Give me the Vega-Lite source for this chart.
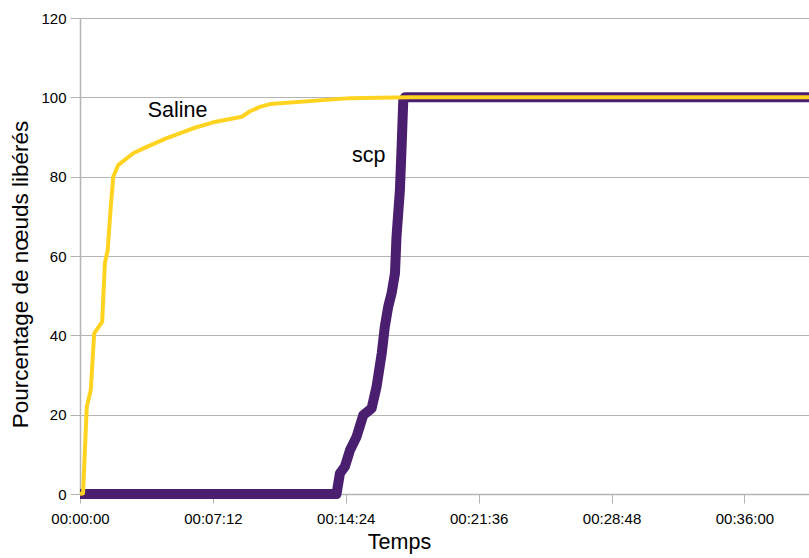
{
  "$schema": "https://vega.github.io/schema/vega-lite/v6.json",
  "width": 729,
  "height": 476,
  "autosize": {"type": "none"},
  "padding": {"left": 80, "top": 18, "right": 0, "bottom": 64},
  "background": "white",
  "config": {
    "view": {"stroke": null},
    "font": "Liberation Sans",
    "axis": {"labelFont": "Liberation Sans", "titleFont": "Liberation Sans", "labelColor": "#000000", "titleColor": "#000000", "titleFontWeight": "normal"}
  },
  "datasets": {
    "saline": [
      {"t": 0, "v": 0}, {"t": 10, "v": 0.2}, {"t": 22, "v": 22.0}, {"t": 35, "v": 26.2},
      {"t": 46, "v": 40.5}, {"t": 72, "v": 43.4}, {"t": 81, "v": 58.2}, {"t": 90, "v": 61.5},
      {"t": 100, "v": 72.4}, {"t": 106, "v": 77.9}, {"t": 108, "v": 80.0}, {"t": 124, "v": 82.9},
      {"t": 173, "v": 85.9}, {"t": 217, "v": 87.5}, {"t": 282, "v": 89.7}, {"t": 368, "v": 92.2},
      {"t": 433, "v": 93.7}, {"t": 526, "v": 95.1}, {"t": 553, "v": 96.5}, {"t": 585, "v": 97.6},
      {"t": 618, "v": 98.3}, {"t": 878, "v": 99.8}, {"t": 1073, "v": 100}, {"t": 2370, "v": 100}
    ],
    "scp": [
      {"t": 0, "v": 0}, {"t": 834, "v": 0}, {"t": 845, "v": 5.2}, {"t": 861, "v": 6.9},
      {"t": 878, "v": 11.1}, {"t": 899, "v": 14.4}, {"t": 921, "v": 19.9}, {"t": 948, "v": 21.6},
      {"t": 964, "v": 27.0}, {"t": 981, "v": 35.5}, {"t": 991, "v": 42.2}, {"t": 1002, "v": 47.2},
      {"t": 1013, "v": 50.6}, {"t": 1024, "v": 55.6}, {"t": 1029, "v": 64.9}, {"t": 1040, "v": 76.6},
      {"t": 1046, "v": 88.4}, {"t": 1051, "v": 99.3}, {"t": 1056, "v": 100}, {"t": 2370, "v": 100}
    ],
    "labels": [
      {"t": 317, "v": 96.5, "name": "Saline"},
      {"t": 939, "v": 85.3, "name": "scp"}
    ]
  },
  "layer": [
    {
      "data": {"name": "scp"},
      "mark": {"type": "line", "color": "#4b1f6f", "strokeWidth": 10, "strokeJoin": "round", "strokeCap": "butt"},
      "encoding": {
        "x": {
          "field": "t", "type": "quantitative",
          "scale": {"domain": [0, 2370], "nice": false, "zero": false},
          "axis": {
            "values": [0, 432, 864, 1296, 1728, 2160],
            "labelExpr": "utcFormat(datum.value * 1000, '%H:%M:%S')",
            "labelFlush": false, "labelOverlap": false,
            "title": "Temps", "titleFontSize": 21.5, "titlePadding": 5,
            "titleX": 319, "titleAlign": "center", "titleAnchor": null,
            "labelFontSize": 15, "labelPadding": 8,
            "grid": false, "domainColor": "#b3b3b3", "domainWidth": 1.5,
            "tickColor": "#b3b3b3", "tickSize": 9, "tickWidth": 1
          }
        },
        "y": {
          "field": "v", "type": "quantitative",
          "scale": {"domain": [0, 120], "nice": false},
          "axis": {
            "values": [0, 20, 40, 60, 80, 100, 120],
            "title": "Pourcentage de nœuds libérés", "titleFontSize": 22.5, "titlePadding": 8,
            "titleY": 256,
            "labelFontSize": 15, "labelPadding": 4,
            "grid": true, "gridColor": "#b3b3b3", "gridWidth": 1,
            "domainColor": "#b3b3b3", "domainWidth": 1.5,
            "tickColor": "#b3b3b3", "tickSize": 10
          }
        }
      }
    },
    {
      "data": {"name": "saline"},
      "mark": {"type": "line", "color": "#ffd320", "strokeWidth": 4, "strokeJoin": "round"},
      "encoding": {
        "x": {"field": "t", "type": "quantitative"},
        "y": {"field": "v", "type": "quantitative"}
      }
    },
    {
      "data": {"name": "labels"},
      "mark": {"type": "text", "fontSize": 21.5, "font": "Liberation Sans", "color": "#000000", "align": "center", "baseline": "middle"},
      "encoding": {
        "x": {"field": "t", "type": "quantitative"},
        "y": {"field": "v", "type": "quantitative"},
        "text": {"field": "name"}
      }
    }
  ]
}
